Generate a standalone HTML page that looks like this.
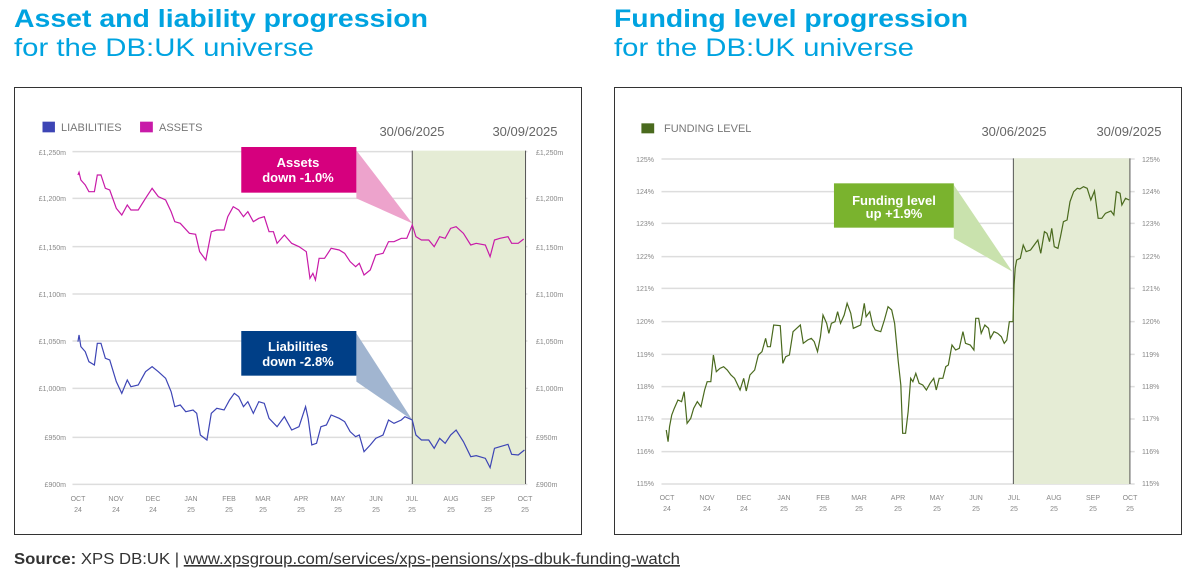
<!DOCTYPE html>
<html><head><meta charset="utf-8"><style>
html,body{margin:0;padding:0;background:#fff;}
svg{display:block;font-family:"Liberation Sans",sans-serif;}
</style></head><body>
<svg width="1187" height="573" viewBox="0 0 1187 573" xmlns="http://www.w3.org/2000/svg">
<rect width="1187" height="573" fill="#fff"/>
<text x="14" y="27" font-size="25" font-weight="bold" fill="#00a3e0" textLength="414" lengthAdjust="spacingAndGlyphs">Asset and liability progression</text>
<text x="14" y="56" font-size="25" fill="#00a3e0" textLength="300" lengthAdjust="spacingAndGlyphs">for the DB:UK universe</text>
<text x="614" y="27" font-size="25" font-weight="bold" fill="#00a3e0" textLength="354" lengthAdjust="spacingAndGlyphs">Funding level progression</text>
<text x="614" y="56" font-size="25" fill="#00a3e0" textLength="300" lengthAdjust="spacingAndGlyphs">for the DB:UK universe</text>
<text x="14" y="564" font-size="16" fill="#333" textLength="666" lengthAdjust="spacingAndGlyphs"><tspan font-weight="bold">Source:</tspan> XPS DB:UK | <tspan text-decoration="underline">www.xpsgroup.com/services/xps-pensions/xps-dbuk-funding-watch</tspan></text>

<!-- LEFT CHART -->
<rect x="14.5" y="87.5" width="567" height="447" fill="#fff" stroke="#333" stroke-width="1"/>
<svg x="14" y="85" width="570" height="450" viewBox="0 0 1560 1350" preserveAspectRatio="none">
<g stroke="#ddd" stroke-width="1.5">
<line x1="160" y1="200" x2="1405" y2="200" vector-effect="non-scaling-stroke"/>
<line x1="160" y1="340" x2="1405" y2="340" vector-effect="non-scaling-stroke"/>
<line x1="160" y1="485" x2="1405" y2="485" vector-effect="non-scaling-stroke"/>
<line x1="160" y1="627" x2="1405" y2="627" vector-effect="non-scaling-stroke"/>
<line x1="160" y1="768" x2="1405" y2="768" vector-effect="non-scaling-stroke"/>
<line x1="160" y1="910" x2="1405" y2="910" vector-effect="non-scaling-stroke"/>
<line x1="160" y1="1057" x2="1405" y2="1057" vector-effect="non-scaling-stroke"/>
<line x1="160" y1="1198" x2="1405" y2="1198" vector-effect="non-scaling-stroke"/>
</g>
<rect x="1090" y="197" width="310" height="1000" fill="#e5ecd5"/>
<line x1="1090" y1="197" x2="1090" y2="1197" stroke="#555" stroke-width="1" vector-effect="non-scaling-stroke"/>
<line x1="1400" y1="197" x2="1400" y2="1197" stroke="#555" stroke-width="1" vector-effect="non-scaling-stroke"/>
<polygon points="937,196 937,340 1090,415" fill="#eda3cc"/>
<polygon points="937,745 937,890 1090,1005" fill="#a1b5d0"/>
<rect x="622" y="186" width="315" height="137" fill="#d6007e"/>
<rect x="622" y="738" width="315" height="134" fill="#003f87"/>
<polyline fill="none" stroke="#c81aa8" stroke-width="1.2" vector-effect="non-scaling-stroke" points="175,270 178,262 183,285 195,300 205,320 220,320 228,270 238,270 250,310 262,315 280,370 295,390 310,360 320,375 340,375 360,340 378,310 395,335 415,345 430,380 440,410 455,415 480,445 497,448 508,500 525,525 540,440 555,435 575,435 585,395 600,365 615,375 628,395 640,380 655,410 670,400 685,395 698,440 710,440 720,475 740,450 760,475 780,485 800,500 810,580 818,565 825,585 835,520 850,520 868,490 890,495 905,505 920,530 935,545 945,535 958,570 975,555 990,510 1010,505 1025,470 1040,470 1060,460 1075,460 1090,420 1100,455 1115,465 1135,465 1150,485 1165,455 1180,460 1195,430 1210,425 1230,445 1250,480 1265,475 1290,480 1303,515 1315,465 1330,460 1352,455 1362,475 1380,475 1395,462"/>
<polyline fill="none" stroke="#3d45b5" stroke-width="1.2" vector-effect="non-scaling-stroke" points="175,770 178,750 183,785 195,800 205,830 220,840 228,775 238,775 250,820 262,825 280,890 295,925 310,885 320,905 340,900 360,860 378,845 395,860 415,880 430,920 440,965 455,960 470,980 490,975 500,985 510,1050 528,1065 540,985 555,970 575,975 590,945 603,925 615,935 628,965 640,950 655,985 670,950 685,955 698,1000 720,1025 740,995 760,1035 780,1025 798,965 805,1000 815,1080 828,1075 840,1025 855,1020 868,990 890,1000 905,1010 920,1040 935,1055 945,1050 958,1100 975,1080 990,1060 1010,1050 1025,1005 1040,1015 1060,1005 1070,995 1090,1005 1100,1050 1115,1065 1135,1065 1150,1090 1165,1060 1180,1075 1195,1050 1210,1035 1230,1070 1250,1115 1265,1112 1290,1120 1303,1148 1315,1090 1330,1085 1352,1078 1362,1108 1380,1110 1397,1095"/>
<rect x="78" y="110" width="34" height="32" fill="#3d45b5"/>
<rect x="345" y="110" width="35" height="32" fill="#c81aa8"/>
</svg>
<g font-size="11" fill="#777">
<text x="61" y="131">LIABILITIES</text>
<text x="159" y="131">ASSETS</text>
</g>
<g font-size="13" fill="#666" text-anchor="middle">
<text x="412" y="136">30/06/2025</text>
<text x="525" y="136">30/09/2025</text>
</g>
<g font-size="13" font-weight="bold" fill="#fff" text-anchor="middle">
<text x="298" y="167">Assets</text>
<text x="298" y="182">down -1.0%</text>
<text x="298" y="351">Liabilities</text>
<text x="298" y="366">down -2.8%</text>
</g>
<g font-size="7" fill="#888" text-anchor="end">
<text x="66" y="155">£1,250m</text><text x="66" y="201">£1,200m</text><text x="66" y="250">£1,150m</text><text x="66" y="297">£1,100m</text><text x="66" y="344">£1,050m</text><text x="66" y="391">£1,000m</text><text x="66" y="440">£950m</text><text x="66" y="487">£900m</text>
</g>
<g font-size="7" fill="#888">
<text x="536" y="155">£1,250m</text><text x="536" y="201">£1,200m</text><text x="536" y="250">£1,150m</text><text x="536" y="297">£1,100m</text><text x="536" y="344">£1,050m</text><text x="536" y="391">£1,000m</text><text x="536" y="440">£950m</text><text x="536" y="487">£900m</text>
</g>
<g font-size="7" fill="#888" text-anchor="middle">
<text x="78" y="501">OCT</text><text x="78" y="512">24</text>
<text x="116" y="501">NOV</text><text x="116" y="512">24</text>
<text x="153" y="501">DEC</text><text x="153" y="512">24</text>
<text x="191" y="501">JAN</text><text x="191" y="512">25</text>
<text x="229" y="501">FEB</text><text x="229" y="512">25</text>
<text x="263" y="501">MAR</text><text x="263" y="512">25</text>
<text x="301" y="501">APR</text><text x="301" y="512">25</text>
<text x="338" y="501">MAY</text><text x="338" y="512">25</text>
<text x="376" y="501">JUN</text><text x="376" y="512">25</text>
<text x="412" y="501">JUL</text><text x="412" y="512">25</text>
<text x="451" y="501">AUG</text><text x="451" y="512">25</text>
<text x="488" y="501">SEP</text><text x="488" y="512">25</text>
<text x="525" y="501">OCT</text><text x="525" y="512">25</text>
</g>

<!-- RIGHT CHART -->
<rect x="614.5" y="87.5" width="567" height="447" fill="#fff" stroke="#333" stroke-width="1"/>
<svg x="614" y="85" width="570" height="450" viewBox="0 0 1560 1350" preserveAspectRatio="none">
<g stroke="#ddd" stroke-width="1.5">
<line x1="130" y1="222" x2="1425" y2="222" vector-effect="non-scaling-stroke"/>
<line x1="130" y1="320" x2="1425" y2="320" vector-effect="non-scaling-stroke"/>
<line x1="130" y1="415" x2="1425" y2="415" vector-effect="non-scaling-stroke"/>
<line x1="130" y1="515" x2="1425" y2="515" vector-effect="non-scaling-stroke"/>
<line x1="130" y1="610" x2="1425" y2="610" vector-effect="non-scaling-stroke"/>
<line x1="130" y1="710" x2="1425" y2="710" vector-effect="non-scaling-stroke"/>
<line x1="130" y1="808" x2="1425" y2="808" vector-effect="non-scaling-stroke"/>
<line x1="130" y1="905" x2="1425" y2="905" vector-effect="non-scaling-stroke"/>
<line x1="130" y1="1002" x2="1425" y2="1002" vector-effect="non-scaling-stroke"/>
<line x1="130" y1="1100" x2="1425" y2="1100" vector-effect="non-scaling-stroke"/>
<line x1="130" y1="1197" x2="1425" y2="1197" vector-effect="non-scaling-stroke"/>
</g>
<rect x="1093" y="220" width="319" height="977" fill="#e5ecd5"/>
<line x1="1093" y1="220" x2="1093" y2="1197" stroke="#555" stroke-width="1" vector-effect="non-scaling-stroke"/>
<line x1="1412" y1="220" x2="1412" y2="1197" stroke="#555" stroke-width="1" vector-effect="non-scaling-stroke"/>
<polygon points="930,300 930,460 1090,560" fill="#c9e2ad"/>
<rect x="602" y="295" width="328" height="133" fill="#7ab32e"/>
<polyline fill="none" stroke="#4a6a1e" stroke-width="1.2" vector-effect="non-scaling-stroke" points="143,1035 148,1070 152,1025 158,990 165,970 175,945 185,950 192,920 200,1015 210,1000 218,970 228,950 238,965 248,915 255,890 265,890 272,810 280,860 290,850 300,845 310,855 320,870 330,880 345,915 355,880 362,918 372,870 385,855 395,810 405,800 415,760 420,785 428,785 437,720 455,722 462,835 470,815 480,810 490,740 500,730 510,720 518,775 530,765 540,760 548,770 557,800 565,755 572,690 582,715 588,745 595,715 605,710 612,680 620,715 630,690 638,655 648,685 655,730 665,725 675,720 685,655 690,695 700,680 708,720 715,735 730,740 740,705 750,665 760,675 768,715 778,830 785,900 790,1045 798,1045 805,980 812,880 818,890 826,865 835,895 845,900 855,915 865,895 875,880 882,915 890,880 900,880 908,845 915,840 925,780 935,795 945,790 955,740 962,775 975,780 985,795 990,700 998,700 1005,745 1015,720 1025,730 1030,760 1040,740 1050,745 1060,755 1068,775 1075,765 1082,710 1092,710 1095,600 1098,550 1102,525 1112,520 1120,480 1128,500 1140,495 1150,480 1160,465 1168,505 1178,440 1185,445 1192,470 1198,430 1205,485 1215,490 1222,455 1230,410 1240,405 1248,350 1258,320 1268,310 1275,312 1285,305 1295,310 1305,345 1315,318 1325,400 1335,400 1345,385 1360,378 1368,390 1375,320 1385,325 1390,360 1400,340 1410,345"/>
<rect x="75" y="115" width="35" height="30" fill="#4a6a1e"/>
</svg>
<text x="664" y="132" font-size="11" fill="#777">FUNDING LEVEL</text>
<g font-size="13" fill="#666" text-anchor="middle">
<text x="1014" y="136">30/06/2025</text>
<text x="1129" y="136">30/09/2025</text>
</g>
<g font-size="13" font-weight="bold" fill="#fff" text-anchor="middle">
<text x="894" y="205">Funding level</text>
<text x="894" y="218">up +1.9%</text>
</g>
<g font-size="7" fill="#888" text-anchor="end">
<text x="654" y="162">125%</text><text x="654" y="194">124%</text><text x="654" y="226">123%</text><text x="654" y="259">122%</text><text x="654" y="291">121%</text><text x="654" y="324">120%</text><text x="654" y="357">119%</text><text x="654" y="389">118%</text><text x="654" y="421">117%</text><text x="654" y="454">116%</text><text x="654" y="486">115%</text>
</g>
<g font-size="7" fill="#888">
<text x="1142" y="162">125%</text><text x="1142" y="194">124%</text><text x="1142" y="226">123%</text><text x="1142" y="259">122%</text><text x="1142" y="291">121%</text><text x="1142" y="324">120%</text><text x="1142" y="357">119%</text><text x="1142" y="389">118%</text><text x="1142" y="421">117%</text><text x="1142" y="454">116%</text><text x="1142" y="486">115%</text>
</g>
<g font-size="7" fill="#888" text-anchor="middle">
<text x="667" y="500">OCT</text><text x="667" y="511">24</text>
<text x="707" y="500">NOV</text><text x="707" y="511">24</text>
<text x="744" y="500">DEC</text><text x="744" y="511">24</text>
<text x="784" y="500">JAN</text><text x="784" y="511">25</text>
<text x="823" y="500">FEB</text><text x="823" y="511">25</text>
<text x="859" y="500">MAR</text><text x="859" y="511">25</text>
<text x="898" y="500">APR</text><text x="898" y="511">25</text>
<text x="937" y="500">MAY</text><text x="937" y="511">25</text>
<text x="976" y="500">JUN</text><text x="976" y="511">25</text>
<text x="1014" y="500">JUL</text><text x="1014" y="511">25</text>
<text x="1054" y="500">AUG</text><text x="1054" y="511">25</text>
<text x="1093" y="500">SEP</text><text x="1093" y="511">25</text>
<text x="1130" y="500">OCT</text><text x="1130" y="511">25</text>
</g>
</svg>
</body></html>
